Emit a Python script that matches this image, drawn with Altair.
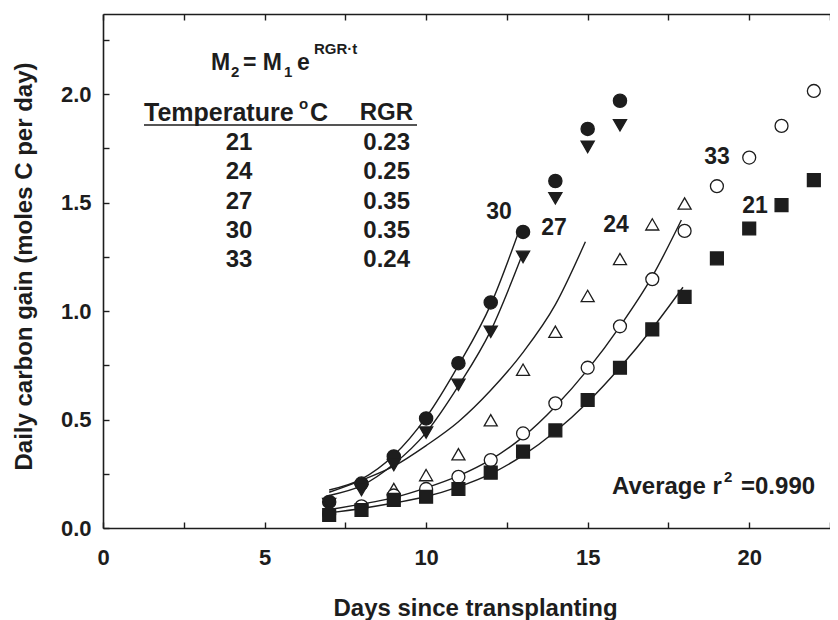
import altair as alt
import pandas as pd

FONT = "Liberation Sans"
INK = "#1d1d1d"

# ---------------- data ----------------
days_30 = [7, 8, 9, 10, 11, 12, 13, 14, 15, 16]
gain_30 = [0.12, 0.205, 0.33, 0.505, 0.76, 1.04, 1.365, 1.60, 1.84, 1.97]

days_27 = [7, 8, 9, 10, 11, 12, 13, 14, 15, 16]
gain_27 = [0.11, 0.175, 0.29, 0.44, 0.66, 0.905, 1.25, 1.52, 1.757, 1.857]

days_24 = [9, 10, 11, 12, 13, 14, 15, 16, 17, 18]
gain_24 = [0.18, 0.244, 0.34, 0.497, 0.73, 0.905, 1.07, 1.24, 1.40, 1.496]

days_33 = [7, 8, 9, 10, 11, 12, 13, 14, 15, 16, 17, 18, 19, 20, 21, 22]
gain_33 = [0.065, 0.10, 0.15, 0.18, 0.236, 0.313, 0.436, 0.575, 0.739, 0.93,
           1.147, 1.37, 1.576, 1.708, 1.854, 2.015]

days_21 = [7, 8, 9, 10, 11, 12, 13, 14, 15, 16, 17, 18, 19, 20, 21, 22]
gain_21 = [0.06, 0.083, 0.13, 0.144, 0.18, 0.255, 0.352, 0.45, 0.59, 0.739,
           0.916, 1.066, 1.243, 1.381, 1.489, 1.604]

# fitted curves
fit30_x = [7, 8, 9, 10, 11, 12, 12.9]
fit30_y = [0.175, 0.225, 0.335, 0.51, 0.75, 1.03, 1.38]
fit27_x = [7, 8, 9, 10, 11, 12, 13]
fit27_y = [0.15, 0.195, 0.295, 0.44, 0.655, 0.91, 1.27]
fit24_x = [7, 8, 9, 10, 11, 12, 13, 14, 14.93]
fit24_y = [0.165, 0.22, 0.285, 0.38, 0.49, 0.635, 0.81, 1.03, 1.32]
fit33_x = [7, 8, 9, 10, 11, 12, 13, 14, 15, 16, 17, 17.9]
fit33_y = [0.085, 0.11, 0.14, 0.185, 0.24, 0.315, 0.42, 0.56, 0.73, 0.93, 1.16, 1.42]
fit21_x = [7, 8, 9, 10, 11, 12, 13, 14, 15, 16, 17, 17.95]
fit21_y = [0.07, 0.09, 0.115, 0.145, 0.19, 0.25, 0.335, 0.445, 0.58, 0.74, 0.92, 1.11]

temps = ["21", "24", "27", "30", "33"]
rgr = ["0.23", "0.25", "0.35", "0.35", "0.24"]

x_major = [0, 5, 10, 15, 20]
x_minor = [0, 2.5, 5, 7.5, 10, 12.5, 15, 17.5, 20, 22.5]
y_major = [0.0, 0.5, 1.0, 1.5, 2.0]
y_minor = [0.0, 0.25, 0.5, 0.75, 1.0, 1.25, 1.5, 1.75, 2.0, 2.25]

# ---------------- tables ----------------
series_order = ["30", "27", "24", "33", "21"]
pts = []
for name, dd, gg in [("30", days_30, gain_30), ("27", days_27, gain_27),
                     ("24", days_24, gain_24), ("33", days_33, gain_33),
                     ("21", days_21, gain_21)]:
    for d, g in zip(dd, gg):
        pts.append({"day": d, "gain": g, "temp": name})
pts = pd.DataFrame(pts)

fits = []
for name, xx, yy in [("30", fit30_x, fit30_y), ("27", fit27_x, fit27_y),
                     ("24", fit24_x, fit24_y), ("33", fit33_x, fit33_y),
                     ("21", fit21_x, fit21_y)]:
    for x, y in zip(xx, yy):
        fits.append({"day": x, "gain": y, "temp": name})
fits = pd.DataFrame(fits)

# ---------------- layout constants (pixels) ----------------
W, H = 727, 514
OX, OY = 103, 14  # plot origin in page pixels

xs = alt.Scale(domain=[0, 22.5], nice=False, zero=False)
ys = alt.Scale(domain=[0, 2.37], nice=False, zero=False)

lab_style = dict(labelFont=FONT, labelFontSize=22, labelFontWeight="bold",
                 labelColor=INK, grid=False)
title_style = dict(titleFont=FONT, titleFontSize=24, titleFontWeight="bold",
                   titleColor=INK)

x_lab = alt.Axis(orient="bottom", values=x_major, format="d", ticks=False, tickSize=0,
                 domain=True, domainColor=INK, domainWidth=1.6, labelPadding=19,
                 labelFlush=False, labelOverlap=False,
                 titleX=372, titleY=80, titleAlign="center", titleBaseline="middle",
                 **lab_style, **title_style)
y_lab = alt.Axis(orient="left", values=y_major, format=".1f", ticks=False, tickSize=0,
                 domain=True, domainColor=INK, domainWidth=1.6, labelPadding=12,
                 labelFlush=False, labelOverlap=False,
                 titleX=-79, titleY=252, titleAngle=270, titleAlign="center",
                 titleBaseline="middle", **lab_style, **title_style)
x_tick = alt.Axis(orient="bottom", values=x_minor, ticks=True, tickSize=6, tickWidth=1.4,
                  tickColor=INK, offset=-6, domain=False, labels=False, grid=False)
y_tick = alt.Axis(orient="left", values=y_minor, ticks=True, tickSize=6, tickWidth=1.4,
                  tickColor=INK, offset=-6, domain=False, labels=False, grid=False)
x_top = alt.Axis(orient="top", ticks=False, domain=True, domainColor=INK, domainWidth=1.6,
                 labels=False, grid=False)
x_top_tick = alt.Axis(orient="top", values=x_minor, ticks=True, tickSize=6, tickWidth=1.4,
                      tickColor=INK, offset=-6, domain=False, labels=False, grid=False)

lines = alt.Chart(fits).mark_line(color=INK, strokeWidth=1.4, interpolate="monotone").encode(
    x=alt.X("day:Q", scale=xs, axis=x_lab, title="Days since transplanting"),
    y=alt.Y("gain:Q", scale=ys, axis=y_lab, title="Daily carbon gain (moles C per day)"),
    detail="temp:N",
)

points = alt.Chart(pts).mark_point(filled=True, stroke=INK, strokeWidth=1.3, opacity=1).encode(
    x=alt.X("day:Q", scale=xs, axis=x_tick, title=None),
    y=alt.Y("gain:Q", scale=ys, axis=y_tick, title=None),
    shape=alt.Shape("temp:N", scale=alt.Scale(domain=series_order,
                    range=["circle", "triangle-down", "triangle-up", "circle", "square"]),
                    legend=None),
    fill=alt.Fill("temp:N", scale=alt.Scale(domain=series_order,
                  range=[INK, INK, "white", "white", INK]), legend=None),
    size=alt.Size("temp:O", scale=alt.Scale(domain=series_order,
                  range=[175, 165, 150, 165, 130]), legend=None),
)

top_dom = alt.Chart(fits).mark_line(opacity=0).encode(
    x=alt.X("day:Q", scale=xs, axis=x_top, title=None),
    y=alt.Y("gain:Q", scale=ys, axis=None),
    detail="temp:N",
)
top_ticks = alt.Chart(fits).mark_line(opacity=0).encode(
    x=alt.X("day:Q", scale=xs, axis=x_top_tick, title=None),
    y=alt.Y("gain:Q", scale=ys, axis=None),
    detail="temp:N",
)

one = pd.DataFrame({"k": [0]})


def txt(s, px, py, size=23, align="left", baseline="middle"):
    return alt.Chart(one).mark_text(
        text=s, align=align, baseline=baseline, fontSize=size, font=FONT,
        fontWeight="bold", color=INK,
    ).encode(x=alt.value(px - OX), y=alt.value(py - OY))


texts = [
    # formula
    txt("M", 211, 63), txt("2", 231, 72, 15), txt("= M", 243, 63), txt("1", 284, 72, 15),
    txt("e", 297, 63), txt("RGR·t", 314, 49, 15),
    # table header
    txt("Temperature", 144, 113, 25), txt("o", 299, 104, 15), txt("C", 310, 113, 25),
    txt("RGR", 413, 113, 24, align="right"),
    # series labels
    txt("30", 499, 212, 23, align="center"), txt("27", 554, 228, 23, align="center"),
    txt("24", 616, 225, 23, align="center"), txt("33", 717, 157, 23, align="center"),
    txt("21", 755, 206, 23, align="center"),
    # r^2
    txt("Average r", 612, 487, 24), txt("2", 724, 477, 15), txt("=0.990", 741, 487, 24),
]
row_y = [143, 172, 201.5, 230.5, 260]
for t, r, yy in zip(temps, rgr, row_y):
    texts.append(txt(t, 239, yy, 24, align="center"))
    texts.append(txt(r, 410, yy, 24, align="right"))

underline = alt.Chart(one).mark_rule(color=INK, strokeWidth=1.5).encode(
    x=alt.value(144 - OX), x2=alt.value(417 - OX), y=alt.value(125 - OY)
)

chart = alt.layer(lines, points, top_dom, top_ticks, underline, *texts).resolve_axis(
    x="independent", y="independent"
).properties(
    width=W, height=H,
    autosize=alt.AutoSizeParams(type="none"),
    padding={"left": 95, "top": 6, "right": 0, "bottom": 92},
).configure(background="white").configure_view(stroke="transparent")

chart.save("out.html", embed_options={"renderer": "svg", "actions": False})
